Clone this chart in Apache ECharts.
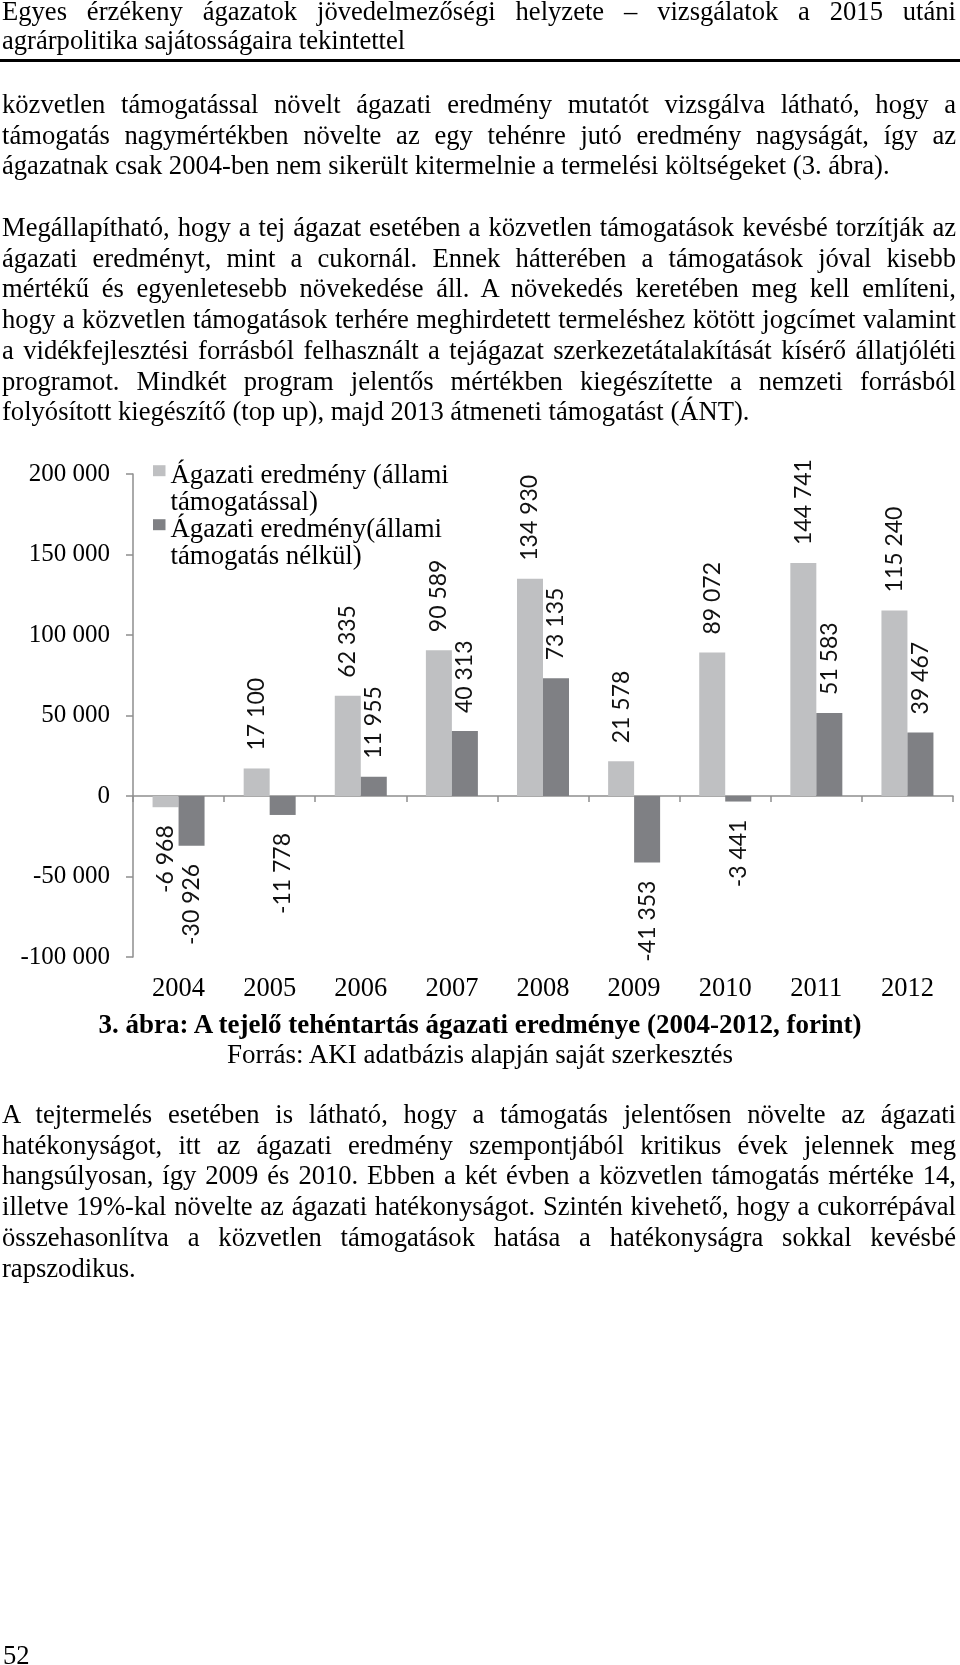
<!DOCTYPE html>
<html lang="hu">
<head>
<meta charset="utf-8">
<script src="https://cdn.jsdelivr.net/npm/echarts@6/dist/echarts.min.js"></script>
<style>
  html, body { margin:0; padding:0; background:#fff; }
  body { width:960px; height:1665px; position:relative; overflow:hidden; }
  #chart { position:absolute; left:0; top:0; width:960px; height:1665px; }
  .blk { position:absolute; left:2px; width:954px; font-family:'Liberation Serif','Times New Roman',serif; font-size:26.6px; line-height:30.7px; color:#000; }
  .j { text-align:justify; text-align-last:justify; }
  .rule { position:absolute; left:0; width:960px; top:59px; height:3px; background:#000; }
  .cap { position:absolute; left:0; width:960px; text-align:center; font-family:'Liberation Serif','Times New Roman',serif; font-size:27px; line-height:30px; color:#000; }
</style>
</head>
<body>
<div id="chart"></div>

<div class="blk" style="top:-3px; line-height:29.3px;">
  <div class="j">Egyes érzékeny ágazatok jövedelmezőségi helyzete – vizsgálatok a 2015 utáni</div>
  <div>agrárpolitika sajátosságaira tekintettel</div>
</div>
<div class="rule"></div>

<div class="blk" style="top:89px;">
  <div class="j">közvetlen támogatással növelt ágazati eredmény mutatót vizsgálva látható, hogy a</div>
  <div class="j">támogatás nagymértékben növelte az egy tehénre jutó eredmény nagyságát, így az</div>
  <div>ágazatnak csak 2004-ben nem sikerült kitermelnie a termelési költségeket (3. ábra).</div>
</div>

<div class="blk" style="top:212px;">
  <div class="j">Megállapítható, hogy a tej ágazat esetében a közvetlen támogatások kevésbé torzítják az</div>
  <div class="j">ágazati eredményt, mint a cukornál. Ennek hátterében a támogatások jóval kisebb</div>
  <div class="j">mértékű és egyenletesebb növekedése áll. A növekedés keretében meg kell említeni,</div>
  <div class="j">hogy a közvetlen támogatások terhére meghirdetett termeléshez kötött jogcímet valamint</div>
  <div class="j">a vidékfejlesztési forrásból felhasznált a tejágazat szerkezetátalakítását kísérő állatjóléti</div>
  <div class="j">programot. Mindkét program jelentős mértékben kiegészítette a nemzeti forrásból</div>
  <div>folyósított kiegészítő (top up), majd 2013 átmeneti támogatást (ÁNT).</div>
</div>

<div class="cap" style="top:1008.5px; font-weight:bold;">3. ábra: A tejelő tehéntartás ágazati eredménye (2004-2012, forint)</div>
<div class="cap" style="top:1039px;">Forrás: AKI adatbázis alapján saját szerkesztés</div>

<div class="blk" style="top:1099px;">
  <div class="j">A tejtermelés esetében is látható, hogy a támogatás jelentősen növelte az ágazati</div>
  <div class="j">hatékonyságot, itt az ágazati eredmény szempontjából kritikus évek jelennek meg</div>
  <div class="j">hangsúlyosan, így 2009 és 2010. Ebben a két évben a közvetlen támogatás mértéke 14,</div>
  <div class="j">illetve 19%-kal növelte az ágazati hatékonyságot. Szintén kivehető, hogy a cukorrépával</div>
  <div class="j">összehasonlítva a közvetlen támogatások hatása a hatékonyságra sokkal kevésbé</div>
  <div>rapszodikus.</div>
</div>

<div class="blk" style="top:1640px; left:3px;">52</div>

<script>
// ---- data ----
var years = ['2004','2005','2006','2007','2008','2009','2010','2011','2012'];
var withSupport = [-6968, 17100, 62335, 90589, 134930, 21578, 89072, 144741, 115240];
var withoutSupport = [-30926, -11778, 11955, 40313, 73135, -41353, -3441, 51583, 39467];
var seriesNames = ['Ágazati eredmény (állami\ntámogatással)', 'Ágazati eredmény(állami\ntámogatás nélkül)'];

var LIGHT = '#bfc0c2', DARK = '#7f8084', AXIS = '#8e8e8e';

function fmt(v) {
  var s = String(Math.abs(v)).replace(/\B(?=(\d{3})+(?!\d))/g, ' ');
  return (v < 0 ? '-' : '') + s;
}
function build(values) {
  return values.map(function (v) {
    var neg = v < 0;
    return {
      value: v,
      label: {
        position: neg ? 'bottom' : 'top',
        align: neg ? 'right' : 'left'
      }
    };
  });
}
var labelBase = {
  show: true, rotate: 90, distance: 18, verticalAlign: 'middle',
  fontFamily: 'Lato', fontSize: 23, color: '#111',
  formatter: function (p) { return fmt(p.value); }
};
var iconPath = 'path://M0 0 L0 0 M0 3.2 L12.5 3.2 L12.5 14.2 L0 14.2 Z M0 54 L0 54';

var chart = echarts.init(document.getElementById('chart'), null, { renderer: 'canvas' });
chart.setOption({
  animation: false,
  backgroundColor: 'transparent',
  grid: { left: 133, right: 7, top: 474, bottom: 708, containLabel: false },
  legend: {
    data: seriesNames,
    orient: 'vertical',
    left: 153, top: 462, padding: 0, itemGap: 0,
    itemWidth: 12.5, itemHeight: 54,
    icon: iconPath,
    selectedMode: false,
    itemStyle: { borderWidth: 0 },
    textStyle: { fontFamily: 'Liberation Serif', fontSize: 26.8, lineHeight: 27, color: '#000' }
  },
  xAxis: [{
    type: 'category', data: years,
    axisLine: { onZero: true, lineStyle: { color: AXIS, width: 1.5 } },
    axisTick: { show: true, length: 6, lineStyle: { color: AXIS, width: 1.5 } },
    axisLabel: { show: false },
    splitLine: { show: false }
  }, {
    type: 'category', data: years, position: 'bottom',
    axisLine: { show: false }, axisTick: { show: false },
    axisLabel: { show: true, margin: 19, fontFamily: 'Liberation Serif', fontSize: 26.5, color: '#000' },
    splitLine: { show: false }
  }],
  yAxis: {
    type: 'value', min: -100000, max: 200000, interval: 50000,
    axisLine: { show: true, lineStyle: { color: AXIS, width: 1.5 } },
    axisTick: { show: true, length: 7, lineStyle: { color: AXIS, width: 1.5 } },
    axisLabel: { margin: 23, fontFamily: 'Liberation Serif', fontSize: 25, color: '#000', formatter: fmt },
    splitLine: { show: false }
  },
  series: [{
    name: seriesNames[0], type: 'bar', xAxisIndex: 0,
    barWidth: 26, barGap: '0%',
    itemStyle: { color: LIGHT },
    label: labelBase,
    data: build(withSupport)
  }, {
    name: seriesNames[1], type: 'bar', xAxisIndex: 0,
    barWidth: 26, barGap: '0%',
    itemStyle: { color: DARK },
    label: labelBase,
    data: build(withoutSupport)
  }]
});
</script>
</body>
</html>
